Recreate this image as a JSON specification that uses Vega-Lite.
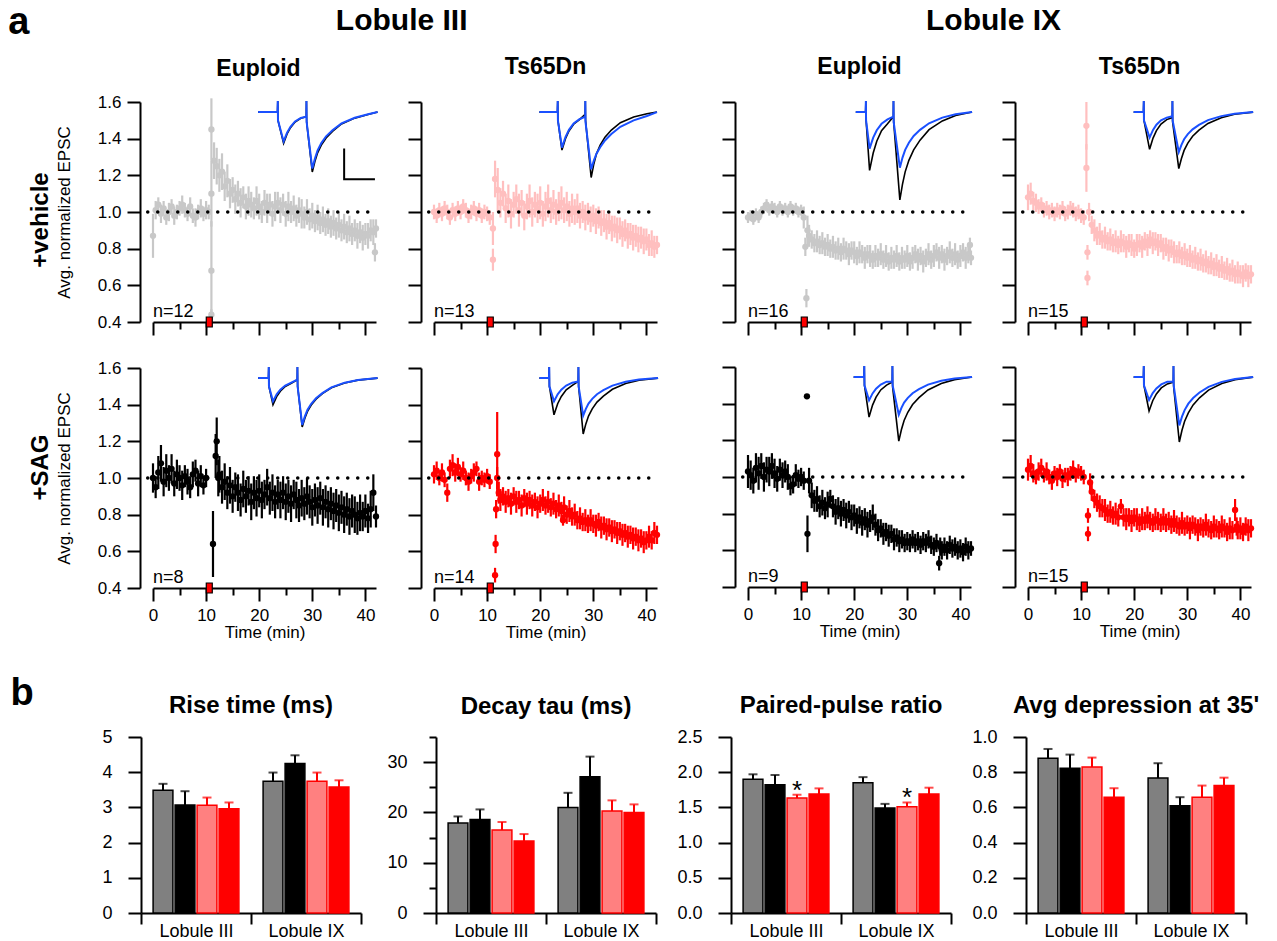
{
"$schema": "https://vega.github.io/schema/vega-lite/v6.json",
"background": "white",
"padding": {"left": 8, "top": 4, "right": 0, "bottom": 0},
"columns": 1,
"align": "none",
"spacing": 34,
"config": {
  "font": "Liberation Sans",
  "view": {"stroke": null},
  "axis": {"domainColor": "#000000", "domainWidth": 2, "tickColor": "#000000", "tickWidth": 2, "labelColor": "#000000", "labelFont": "Liberation Sans", "labelFontSize": 17, "titleFont": "Liberation Sans", "titleFontSize": 17, "titleFontWeight": "normal", "titleColor": "#000000", "grid": false, "labelFlush": false, "labelOverlap": false},
  "title": {"font": "Liberation Sans", "fontWeight": "bold", "color": "#000000"},
  "text": {"font": "Liberation Sans", "color": "#000000"}
},
"datasets": {
"tA1": [{"t":0,"y":0.87,"e":0.12},{"t":0.5,"y":1.01,"e":0.05},{"t":1,"y":1.04,"e":0.04},{"t":1.5,"y":0.99,"e":0.05},{"t":2,"y":1.02,"e":0.04},{"t":2.5,"y":0.97,"e":0.04},{"t":3,"y":1.0,"e":0.05},{"t":3.5,"y":1.03,"e":0.04},{"t":4,"y":0.98,"e":0.05},{"t":4.5,"y":1.0,"e":0.04},{"t":5,"y":1.02,"e":0.04},{"t":5.5,"y":1.04,"e":0.05},{"t":6,"y":1.01,"e":0.04},{"t":6.5,"y":0.99,"e":0.04},{"t":7,"y":1.03,"e":0.05},{"t":7.5,"y":0.98,"e":0.04},{"t":8,"y":0.97,"e":0.05},{"t":8.5,"y":1.0,"e":0.04},{"t":9,"y":1.02,"e":0.05},{"t":9.5,"y":0.99,"e":0.04},{"t":10,"y":1.01,"e":0.05},{"t":10.5,"y":1.0,"e":0.04},
{"t":11,"y":1.45,"e":0.17},{"t":11,"y":1.1,"e":0.18},{"t":11,"y":0.68,"e":0.27},{"t":11,"y":0.44,"e":0.03},
{"t":11.5,"y":1.28,"e":0.1},{"t":12,"y":1.25,"e":0.1},{"t":12.5,"y":1.2,"e":0.09},{"t":13,"y":1.22,"e":0.1},{"t":13.5,"y":1.14,"e":0.08},{"t":14,"y":1.17,"e":0.09},{"t":14.5,"y":1.1,"e":0.08},{"t":15,"y":1.12,"e":0.07},{"t":15.5,"y":1.07,"e":0.08},{"t":16,"y":1.1,"e":0.07},{"t":16.5,"y":1.05,"e":0.08},{"t":17,"y":1.08,"e":0.06},{"t":17.5,"y":1.03,"e":0.07},{"t":18,"y":1.06,"e":0.08},{"t":18.5,"y":1.04,"e":0.07},{"t":19,"y":1.02,"e":0.06},{"t":19.5,"y":1.06,"e":0.08},{"t":20,"y":1.03,"e":0.07},{"t":20.5,"y":1.0,"e":0.06},{"t":21,"y":1.05,"e":0.07},{"t":21.5,"y":1.02,"e":0.08},{"t":22,"y":1.04,"e":0.06},{"t":22.5,"y":0.99,"e":0.07},{"t":23,"y":1.03,"e":0.08},{"t":23.5,"y":1.05,"e":0.06},{"t":24,"y":1.01,"e":0.07},{"t":24.5,"y":1.04,"e":0.06},{"t":25,"y":0.99,"e":0.07},{"t":25.5,"y":1.03,"e":0.08},{"t":26,"y":1.0,"e":0.06},{"t":26.5,"y":1.02,"e":0.07},{"t":27,"y":0.98,"e":0.06},{"t":27.5,"y":1.01,"e":0.07},{"t":28,"y":0.99,"e":0.08},{"t":28.5,"y":0.97,"e":0.06},{"t":29,"y":1.0,"e":0.07},{"t":29.5,"y":0.96,"e":0.06},{"t":30,"y":0.98,"e":0.07},{"t":30.5,"y":0.95,"e":0.06},{"t":31,"y":0.97,"e":0.07},{"t":31.5,"y":0.94,"e":0.06},{"t":32,"y":0.96,"e":0.07},{"t":32.5,"y":0.93,"e":0.06},{"t":33,"y":0.95,"e":0.07},{"t":33.5,"y":0.92,"e":0.06},{"t":34,"y":0.94,"e":0.07},{"t":34.5,"y":0.91,"e":0.06},{"t":35,"y":0.93,"e":0.07},{"t":35.5,"y":0.9,"e":0.06},{"t":36,"y":0.92,"e":0.07},{"t":36.5,"y":0.89,"e":0.06},{"t":37,"y":0.91,"e":0.07},{"t":37.5,"y":0.88,"e":0.06},{"t":38,"y":0.9,"e":0.06},{"t":38.5,"y":0.87,"e":0.07},{"t":39,"y":0.89,"e":0.06},{"t":39.5,"y":0.86,"e":0.07},{"t":40,"y":0.88,"e":0.06},{"t":40.5,"y":0.87,"e":0.07},{"t":41,"y":0.9,"e":0.06},{"t":41.5,"y":0.89,"e":0.07},{"t":41.8,"y":0.78,"e":0.05},{"t":42,"y":0.91,"e":0.05}],
"tA2": [{"t":0,"y":1.0,"e":0.04},{"t":0.5,"y":0.98,"e":0.04},{"t":1,"y":1.01,"e":0.04},{"t":1.5,"y":0.99,"e":0.04},{"t":2,"y":1.02,"e":0.04},{"t":2.5,"y":1.0,"e":0.04},{"t":3,"y":0.97,"e":0.04},{"t":3.5,"y":1.01,"e":0.04},{"t":4,"y":0.99,"e":0.04},{"t":4.5,"y":1.02,"e":0.04},{"t":5,"y":1.0,"e":0.04},{"t":5.5,"y":1.03,"e":0.04},{"t":6,"y":1.01,"e":0.04},{"t":6.5,"y":0.98,"e":0.04},{"t":7,"y":1.0,"e":0.04},{"t":7.5,"y":1.02,"e":0.04},{"t":8,"y":0.99,"e":0.04},{"t":8.5,"y":1.01,"e":0.04},{"t":9,"y":0.98,"e":0.04},{"t":9.5,"y":1.0,"e":0.04},{"t":10,"y":0.99,"e":0.04},{"t":10.5,"y":0.97,"e":0.04},
{"t":11.1,"y":0.91,"e":0.09},{"t":11.1,"y":0.74,"e":0.06},{"t":11.5,"y":1.18,"e":0.1},{"t":12,"y":1.12,"e":0.12},{"t":12.5,"y":1.05,"e":0.08},{"t":13,"y":1.1,"e":0.07},{"t":13.5,"y":1.02,"e":0.08},{"t":14,"y":1.06,"e":0.09},{"t":14.5,"y":0.99,"e":0.08},{"t":15,"y":1.04,"e":0.07},{"t":15.5,"y":1.07,"e":0.08},{"t":16,"y":1.01,"e":0.09},{"t":16.5,"y":1.05,"e":0.07},{"t":17,"y":0.98,"e":0.08},{"t":17.5,"y":1.03,"e":0.07},{"t":18,"y":1.06,"e":0.09},{"t":18.5,"y":1.0,"e":0.08},{"t":19,"y":1.04,"e":0.07},{"t":19.5,"y":1.02,"e":0.08},{"t":20,"y":1.05,"e":0.09},{"t":20.5,"y":0.99,"e":0.07},{"t":21,"y":1.03,"e":0.08},{"t":21.5,"y":1.06,"e":0.09},{"t":22,"y":1.01,"e":0.07},{"t":22.5,"y":1.04,"e":0.08},{"t":23,"y":1.0,"e":0.07},{"t":23.5,"y":1.03,"e":0.08},{"t":24,"y":1.05,"e":0.09},{"t":24.5,"y":1.01,"e":0.07},{"t":25,"y":1.03,"e":0.08},{"t":25.5,"y":0.99,"e":0.07},{"t":26,"y":1.02,"e":0.08},{"t":26.5,"y":1.0,"e":0.07},{"t":27,"y":1.02,"e":0.08},{"t":27.5,"y":0.98,"e":0.07},{"t":28,"y":1.0,"e":0.06},{"t":28.5,"y":0.97,"e":0.07},{"t":29,"y":0.99,"e":0.06},{"t":29.5,"y":0.96,"e":0.07},{"t":30,"y":0.98,"e":0.06},{"t":30.5,"y":0.95,"e":0.07},{"t":31,"y":0.97,"e":0.06},{"t":31.5,"y":0.94,"e":0.07},{"t":32,"y":0.95,"e":0.06},{"t":32.5,"y":0.92,"e":0.07},{"t":33,"y":0.94,"e":0.06},{"t":33.5,"y":0.91,"e":0.07},{"t":34,"y":0.92,"e":0.06},{"t":34.5,"y":0.9,"e":0.07},{"t":35,"y":0.91,"e":0.06},{"t":35.5,"y":0.88,"e":0.07},{"t":36,"y":0.9,"e":0.06},{"t":36.5,"y":0.87,"e":0.07},{"t":37,"y":0.88,"e":0.06},{"t":37.5,"y":0.86,"e":0.07},{"t":38,"y":0.87,"e":0.06},{"t":38.5,"y":0.85,"e":0.07},{"t":39,"y":0.86,"e":0.06},{"t":39.5,"y":0.84,"e":0.07},{"t":40,"y":0.85,"e":0.06},{"t":40.5,"y":0.82,"e":0.06},{"t":41,"y":0.83,"e":0.07},{"t":41.5,"y":0.81,"e":0.06},{"t":42,"y":0.82,"e":0.05}],
"tA3": [{"t":0,"y":0.97,"e":0.03},{"t":0.5,"y":0.98,"e":0.03},{"t":1,"y":0.96,"e":0.03},{"t":1.5,"y":0.99,"e":0.03},{"t":2,"y":0.97,"e":0.03},{"t":2.5,"y":1.0,"e":0.03},{"t":3,"y":1.02,"e":0.03},{"t":3.5,"y":1.04,"e":0.03},{"t":4,"y":1.01,"e":0.03},{"t":4.5,"y":1.03,"e":0.03},{"t":5,"y":1.02,"e":0.03},{"t":5.5,"y":1.0,"e":0.03},{"t":6,"y":1.03,"e":0.03},{"t":6.5,"y":1.01,"e":0.03},{"t":7,"y":1.02,"e":0.03},{"t":7.5,"y":1.0,"e":0.03},{"t":8,"y":1.03,"e":0.03},{"t":8.5,"y":1.01,"e":0.03},{"t":9,"y":1.02,"e":0.03},{"t":9.5,"y":1.0,"e":0.03},{"t":10,"y":1.01,"e":0.03},
{"t":10.5,"y":0.97,"e":0.06},{"t":10.8,"y":0.81,"e":0.05},{"t":11,"y":0.53,"e":0.05},{"t":11.2,"y":0.9,"e":0.08},{"t":11.5,"y":0.87,"e":0.06},{"t":12,"y":0.85,"e":0.05},{"t":12.5,"y":0.83,"e":0.05},{"t":13,"y":0.84,"e":0.06},{"t":13.5,"y":0.82,"e":0.05},{"t":14,"y":0.83,"e":0.06},{"t":14.5,"y":0.81,"e":0.05},{"t":15,"y":0.82,"e":0.06},{"t":15.5,"y":0.8,"e":0.05},{"t":16,"y":0.81,"e":0.06},{"t":16.5,"y":0.79,"e":0.05},{"t":17,"y":0.8,"e":0.06},{"t":17.5,"y":0.78,"e":0.05},{"t":18,"y":0.8,"e":0.06},{"t":18.5,"y":0.79,"e":0.05},{"t":19,"y":0.77,"e":0.06},{"t":19.5,"y":0.79,"e":0.05},{"t":20,"y":0.78,"e":0.06},{"t":20.5,"y":0.76,"e":0.05},{"t":21,"y":0.78,"e":0.06},{"t":21.5,"y":0.77,"e":0.05},{"t":22,"y":0.75,"e":0.06},{"t":22.5,"y":0.77,"e":0.05},{"t":23,"y":0.76,"e":0.06},{"t":23.5,"y":0.74,"e":0.05},{"t":24,"y":0.76,"e":0.06},{"t":24.5,"y":0.75,"e":0.05},{"t":25,"y":0.77,"e":0.06},{"t":25.5,"y":0.74,"e":0.05},{"t":26,"y":0.76,"e":0.06},{"t":26.5,"y":0.73,"e":0.05},{"t":27,"y":0.75,"e":0.06},{"t":27.5,"y":0.74,"e":0.05},{"t":28,"y":0.76,"e":0.06},{"t":28.5,"y":0.73,"e":0.05},{"t":29,"y":0.75,"e":0.06},{"t":29.5,"y":0.74,"e":0.05},{"t":30,"y":0.76,"e":0.06},{"t":30.5,"y":0.73,"e":0.05},{"t":31,"y":0.75,"e":0.06},{"t":31.5,"y":0.77,"e":0.05},{"t":32,"y":0.74,"e":0.06},{"t":32.5,"y":0.76,"e":0.05},{"t":33,"y":0.73,"e":0.06},{"t":33.5,"y":0.75,"e":0.05},{"t":34,"y":0.77,"e":0.06},{"t":34.5,"y":0.74,"e":0.05},{"t":35,"y":0.76,"e":0.06},{"t":35.5,"y":0.78,"e":0.05},{"t":36,"y":0.75,"e":0.06},{"t":36.5,"y":0.77,"e":0.05},{"t":37,"y":0.74,"e":0.06},{"t":37.5,"y":0.76,"e":0.05},{"t":38,"y":0.78,"e":0.06},{"t":38.5,"y":0.75,"e":0.05},{"t":39,"y":0.77,"e":0.06},{"t":39.5,"y":0.74,"e":0.05},{"t":40,"y":0.76,"e":0.06},{"t":40.5,"y":0.78,"e":0.05},{"t":41,"y":0.75,"e":0.06},{"t":41.5,"y":0.77,"e":0.05},{"t":41.8,"y":0.82,"e":0.04},{"t":42,"y":0.75,"e":0.04}],
"tA4": [{"t":0,"y":1.08,"e":0.07},{"t":0.5,"y":1.1,"e":0.06},{"t":1,"y":1.06,"e":0.05},{"t":1.5,"y":1.05,"e":0.05},{"t":2,"y":1.03,"e":0.04},{"t":2.5,"y":1.04,"e":0.04},{"t":3,"y":1.01,"e":0.04},{"t":3.5,"y":1.02,"e":0.04},{"t":4,"y":1.0,"e":0.04},{"t":4.5,"y":1.01,"e":0.04},{"t":5,"y":0.99,"e":0.04},{"t":5.5,"y":1.01,"e":0.04},{"t":6,"y":1.0,"e":0.04},{"t":6.5,"y":1.02,"e":0.04},{"t":7,"y":0.99,"e":0.04},{"t":7.5,"y":1.0,"e":0.04},{"t":8,"y":1.02,"e":0.04},{"t":8.5,"y":1.01,"e":0.04},{"t":9,"y":0.99,"e":0.04},{"t":9.5,"y":1.0,"e":0.04},{"t":10,"y":0.98,"e":0.04},{"t":10.5,"y":0.97,"e":0.04},
{"t":11,"y":1.47,"e":0.13},{"t":11,"y":1.24,"e":0.13},{"t":11.2,"y":0.78,"e":0.04},{"t":11.2,"y":0.64,"e":0.04},{"t":11.5,"y":1.0,"e":0.05},{"t":12,"y":0.93,"e":0.05},{"t":12.5,"y":0.9,"e":0.06},{"t":13,"y":0.87,"e":0.05},{"t":13.5,"y":0.88,"e":0.06},{"t":14,"y":0.85,"e":0.05},{"t":14.5,"y":0.86,"e":0.06},{"t":15,"y":0.84,"e":0.05},{"t":15.5,"y":0.85,"e":0.06},{"t":16,"y":0.83,"e":0.05},{"t":16.5,"y":0.84,"e":0.06},{"t":17,"y":0.82,"e":0.05},{"t":17.5,"y":0.84,"e":0.06},{"t":18,"y":0.83,"e":0.05},{"t":18.5,"y":0.81,"e":0.06},{"t":19,"y":0.83,"e":0.05},{"t":19.5,"y":0.82,"e":0.06},{"t":20,"y":0.8,"e":0.05},{"t":20.5,"y":0.82,"e":0.06},{"t":21,"y":0.83,"e":0.05},{"t":21.5,"y":0.81,"e":0.06},{"t":22,"y":0.84,"e":0.05},{"t":22.5,"y":0.82,"e":0.06},{"t":23,"y":0.85,"e":0.05},{"t":23.5,"y":0.83,"e":0.06},{"t":24,"y":0.84,"e":0.05},{"t":24.5,"y":0.82,"e":0.06},{"t":25,"y":0.83,"e":0.05},{"t":25.5,"y":0.8,"e":0.06},{"t":26,"y":0.81,"e":0.05},{"t":26.5,"y":0.79,"e":0.06},{"t":27,"y":0.8,"e":0.05},{"t":27.5,"y":0.78,"e":0.06},{"t":28,"y":0.77,"e":0.05},{"t":28.5,"y":0.78,"e":0.06},{"t":29,"y":0.76,"e":0.05},{"t":29.5,"y":0.77,"e":0.06},{"t":30,"y":0.75,"e":0.05},{"t":30.5,"y":0.76,"e":0.06},{"t":31,"y":0.74,"e":0.05},{"t":31.5,"y":0.75,"e":0.06},{"t":32,"y":0.73,"e":0.05},{"t":32.5,"y":0.74,"e":0.06},{"t":33,"y":0.72,"e":0.05},{"t":33.5,"y":0.73,"e":0.06},{"t":34,"y":0.71,"e":0.05},{"t":34.5,"y":0.72,"e":0.06},{"t":35,"y":0.7,"e":0.05},{"t":35.5,"y":0.71,"e":0.06},{"t":36,"y":0.69,"e":0.05},{"t":36.5,"y":0.7,"e":0.06},{"t":37,"y":0.68,"e":0.05},{"t":37.5,"y":0.69,"e":0.06},{"t":38,"y":0.67,"e":0.05},{"t":38.5,"y":0.68,"e":0.06},{"t":39,"y":0.66,"e":0.05},{"t":39.5,"y":0.67,"e":0.06},{"t":40,"y":0.66,"e":0.05},{"t":40.5,"y":0.65,"e":0.06},{"t":41,"y":0.67,"e":0.05},{"t":41.5,"y":0.65,"e":0.06},{"t":42,"y":0.66,"e":0.05}],
"tB1": [{"t":0,"y":1.0,"e":0.08},{"t":0.5,"y":0.95,"e":0.06},{"t":1,"y":1.03,"e":0.09},{"t":1.5,"y":1.08,"e":0.1},{"t":2,"y":0.98,"e":0.08},{"t":2.5,"y":1.04,"e":0.09},{"t":3,"y":1.0,"e":0.07},{"t":3.5,"y":1.05,"e":0.08},{"t":4,"y":0.97,"e":0.07},{"t":4.5,"y":1.02,"e":0.08},{"t":5,"y":1.0,"e":0.07},{"t":5.5,"y":0.96,"e":0.08},{"t":6,"y":1.01,"e":0.06},{"t":6.5,"y":0.98,"e":0.07},{"t":7,"y":0.95,"e":0.06},{"t":7.5,"y":1.02,"e":0.07},{"t":8,"y":1.04,"e":0.06},{"t":8.5,"y":0.97,"e":0.07},{"t":9,"y":1.01,"e":0.06},{"t":9.5,"y":0.96,"e":0.05},{"t":10,"y":1.0,"e":0.05},
{"t":11.3,"y":0.64,"e":0.18},{"t":11.8,"y":1.12,"e":0.12},{"t":12,"y":1.2,"e":0.13},{"t":12.3,"y":1.0,"e":0.1},{"t":12.5,"y":1.02,"e":0.1},{"t":13,"y":0.95,"e":0.09},{"t":13.5,"y":0.98,"e":0.1},{"t":14,"y":0.92,"e":0.09},{"t":14.5,"y":0.96,"e":0.1},{"t":15,"y":0.9,"e":0.09},{"t":15.5,"y":0.95,"e":0.08},{"t":16,"y":0.92,"e":0.1},{"t":16.5,"y":0.88,"e":0.09},{"t":17,"y":0.94,"e":0.1},{"t":17.5,"y":0.9,"e":0.09},{"t":18,"y":0.93,"e":0.08},{"t":18.5,"y":0.87,"e":0.1},{"t":19,"y":0.92,"e":0.09},{"t":19.5,"y":0.89,"e":0.1},{"t":20,"y":0.93,"e":0.09},{"t":20.5,"y":0.88,"e":0.1},{"t":21,"y":0.91,"e":0.08},{"t":21.5,"y":0.95,"e":0.1},{"t":22,"y":0.89,"e":0.09},{"t":22.5,"y":0.92,"e":0.1},{"t":23,"y":0.87,"e":0.09},{"t":23.5,"y":0.91,"e":0.08},{"t":24,"y":0.88,"e":0.1},{"t":24.5,"y":0.92,"e":0.09},{"t":25,"y":0.87,"e":0.1},{"t":25.5,"y":0.9,"e":0.09},{"t":26,"y":0.86,"e":0.1},{"t":26.5,"y":0.91,"e":0.08},{"t":27,"y":0.88,"e":0.1},{"t":27.5,"y":0.85,"e":0.09},{"t":28,"y":0.89,"e":0.1},{"t":28.5,"y":0.86,"e":0.09},{"t":29,"y":0.9,"e":0.1},{"t":29.5,"y":0.87,"e":0.09},{"t":30,"y":0.84,"e":0.1},{"t":30.5,"y":0.88,"e":0.09},{"t":31,"y":0.85,"e":0.1},{"t":31.5,"y":0.89,"e":0.09},{"t":32,"y":0.84,"e":0.1},{"t":32.5,"y":0.87,"e":0.09},{"t":33,"y":0.83,"e":0.1},{"t":33.5,"y":0.86,"e":0.09},{"t":34,"y":0.82,"e":0.1},{"t":34.5,"y":0.85,"e":0.09},{"t":35,"y":0.81,"e":0.1},{"t":35.5,"y":0.84,"e":0.09},{"t":36,"y":0.8,"e":0.1},{"t":36.5,"y":0.83,"e":0.09},{"t":37,"y":0.79,"e":0.1},{"t":37.5,"y":0.82,"e":0.09},{"t":38,"y":0.8,"e":0.1},{"t":38.5,"y":0.78,"e":0.09},{"t":39,"y":0.81,"e":0.1},{"t":39.5,"y":0.79,"e":0.08},{"t":40,"y":0.82,"e":0.09},{"t":40.5,"y":0.78,"e":0.08},{"t":41,"y":0.83,"e":0.1},{"t":41.5,"y":0.92,"e":0.1},{"t":42,"y":0.79,"e":0.06}],
"tB2": [{"t":0,"y":1.02,"e":0.05},{"t":0.5,"y":1.04,"e":0.05},{"t":1,"y":1.0,"e":0.04},{"t":1.5,"y":1.03,"e":0.05},{"t":2,"y":0.99,"e":0.04},{"t":2.5,"y":0.92,"e":0.05},{"t":3,"y":1.05,"e":0.05},{"t":3.5,"y":1.07,"e":0.06},{"t":4,"y":1.03,"e":0.05},{"t":4.5,"y":1.06,"e":0.05},{"t":5,"y":1.02,"e":0.04},{"t":5.5,"y":1.04,"e":0.05},{"t":6,"y":1.0,"e":0.04},{"t":6.5,"y":0.98,"e":0.05},{"t":7,"y":1.01,"e":0.04},{"t":7.5,"y":1.03,"e":0.05},{"t":8,"y":1.05,"e":0.04},{"t":8.5,"y":0.98,"e":0.05},{"t":9,"y":1.0,"e":0.04},{"t":9.5,"y":0.99,"e":0.04},{"t":10,"y":1.01,"e":0.04},{"t":10.5,"y":0.98,"e":0.04},
{"t":11.5,"y":0.47,"e":0.04},{"t":11.6,"y":0.64,"e":0.05},{"t":11.7,"y":0.83,"e":0.05},{"t":11.9,"y":1.0,"e":0.06},{"t":11.9,"y":1.13,"e":0.23},{"t":12.2,"y":0.92,"e":0.06},{"t":12.5,"y":0.88,"e":0.06},{"t":13,"y":0.9,"e":0.05},{"t":13.5,"y":0.87,"e":0.06},{"t":14,"y":0.89,"e":0.05},{"t":14.5,"y":0.86,"e":0.06},{"t":15,"y":0.9,"e":0.05},{"t":15.5,"y":0.87,"e":0.06},{"t":16,"y":0.88,"e":0.05},{"t":16.5,"y":0.85,"e":0.06},{"t":17,"y":0.89,"e":0.05},{"t":17.5,"y":0.86,"e":0.06},{"t":18,"y":0.88,"e":0.05},{"t":18.5,"y":0.85,"e":0.06},{"t":19,"y":0.87,"e":0.05},{"t":19.5,"y":0.84,"e":0.06},{"t":20,"y":0.86,"e":0.05},{"t":20.5,"y":0.88,"e":0.06},{"t":21,"y":0.85,"e":0.05},{"t":21.5,"y":0.87,"e":0.06},{"t":22,"y":0.84,"e":0.05},{"t":22.5,"y":0.86,"e":0.06},{"t":23,"y":0.83,"e":0.05},{"t":23.5,"y":0.85,"e":0.06},{"t":24,"y":0.82,"e":0.05},{"t":24.3,"y":0.77,"e":0.03},{"t":24.5,"y":0.84,"e":0.06},{"t":25,"y":0.8,"e":0.05},{"t":25.5,"y":0.82,"e":0.06},{"t":26,"y":0.79,"e":0.05},{"t":26.5,"y":0.8,"e":0.06},{"t":27,"y":0.77,"e":0.05},{"t":27.5,"y":0.78,"e":0.06},{"t":28,"y":0.76,"e":0.05},{"t":28.5,"y":0.77,"e":0.06},{"t":29,"y":0.75,"e":0.05},{"t":29.5,"y":0.77,"e":0.06},{"t":30,"y":0.75,"e":0.05},{"t":30.5,"y":0.74,"e":0.06},{"t":31,"y":0.76,"e":0.05},{"t":31.5,"y":0.73,"e":0.06},{"t":32,"y":0.74,"e":0.05},{"t":32.5,"y":0.72,"e":0.06},{"t":33,"y":0.73,"e":0.05},{"t":33.5,"y":0.71,"e":0.06},{"t":34,"y":0.72,"e":0.05},{"t":34.5,"y":0.7,"e":0.06},{"t":35,"y":0.71,"e":0.05},{"t":35.5,"y":0.69,"e":0.06},{"t":36,"y":0.7,"e":0.05},{"t":36.5,"y":0.68,"e":0.06},{"t":37,"y":0.69,"e":0.05},{"t":37.5,"y":0.67,"e":0.06},{"t":38,"y":0.68,"e":0.05},{"t":38.5,"y":0.66,"e":0.06},{"t":39,"y":0.67,"e":0.05},{"t":39.5,"y":0.65,"e":0.06},{"t":40,"y":0.66,"e":0.05},{"t":40.5,"y":0.68,"e":0.06},{"t":41,"y":0.66,"e":0.05},{"t":41.5,"y":0.7,"e":0.06},{"t":42,"y":0.69,"e":0.05}],
"tB3": [{"t":0,"y":1.03,"e":0.09},{"t":0.5,"y":1.01,"e":0.08},{"t":1,"y":0.98,"e":0.07},{"t":1.5,"y":1.05,"e":0.08},{"t":2,"y":1.02,"e":0.09},{"t":2.5,"y":1.06,"e":0.07},{"t":3,"y":1.0,"e":0.08},{"t":3.5,"y":1.04,"e":0.07},{"t":4,"y":1.03,"e":0.08},{"t":4.5,"y":1.06,"e":0.07},{"t":5,"y":1.02,"e":0.08},{"t":5.5,"y":0.99,"e":0.07},{"t":6,"y":1.04,"e":0.06},{"t":6.5,"y":1.01,"e":0.07},{"t":7,"y":1.03,"e":0.06},{"t":7.5,"y":1.0,"e":0.07},{"t":8,"y":0.95,"e":0.05},{"t":8.5,"y":0.96,"e":0.05},{"t":9,"y":1.01,"e":0.06},{"t":9.5,"y":0.99,"e":0.05},{"t":10,"y":1.0,"e":0.05},{"t":10.5,"y":0.98,"e":0.05},
{"t":11.1,"y":1.44,"e":0.005},{"t":11.2,"y":0.69,"e":0.1},{"t":11.5,"y":0.98,"e":0.07},{"t":12,"y":0.9,"e":0.07},{"t":12.5,"y":0.87,"e":0.06},{"t":13,"y":0.88,"e":0.07},{"t":13.5,"y":0.84,"e":0.06},{"t":14,"y":0.86,"e":0.07},{"t":14.5,"y":0.83,"e":0.06},{"t":15,"y":0.85,"e":0.07},{"t":15.5,"y":0.88,"e":0.05},{"t":16,"y":0.84,"e":0.06},{"t":16.5,"y":0.81,"e":0.07},{"t":17,"y":0.83,"e":0.06},{"t":17.5,"y":0.8,"e":0.07},{"t":18,"y":0.82,"e":0.06},{"t":18.5,"y":0.79,"e":0.07},{"t":19,"y":0.81,"e":0.06},{"t":19.5,"y":0.78,"e":0.07},{"t":20,"y":0.79,"e":0.06},{"t":20.5,"y":0.76,"e":0.07},{"t":21,"y":0.78,"e":0.06},{"t":21.5,"y":0.75,"e":0.07},{"t":22,"y":0.77,"e":0.06},{"t":22.5,"y":0.74,"e":0.07},{"t":23,"y":0.76,"e":0.06},{"t":23.5,"y":0.78,"e":0.07},{"t":24,"y":0.74,"e":0.06},{"t":24.5,"y":0.71,"e":0.06},{"t":25,"y":0.72,"e":0.05},{"t":25.5,"y":0.69,"e":0.06},{"t":26,"y":0.7,"e":0.05},{"t":26.5,"y":0.68,"e":0.06},{"t":27,"y":0.69,"e":0.05},{"t":27.5,"y":0.66,"e":0.06},{"t":28,"y":0.67,"e":0.05},{"t":28.5,"y":0.65,"e":0.06},{"t":29,"y":0.66,"e":0.05},{"t":29.5,"y":0.64,"e":0.05},{"t":30,"y":0.65,"e":0.05},{"t":30.5,"y":0.64,"e":0.05},{"t":31,"y":0.66,"e":0.05},{"t":31.5,"y":0.64,"e":0.05},{"t":32,"y":0.65,"e":0.05},{"t":32.5,"y":0.63,"e":0.05},{"t":33,"y":0.65,"e":0.05},{"t":33.5,"y":0.64,"e":0.05},{"t":34,"y":0.66,"e":0.05},{"t":34.5,"y":0.63,"e":0.05},{"t":35,"y":0.62,"e":0.05},{"t":35.5,"y":0.64,"e":0.05},{"t":36,"y":0.53,"e":0.04},{"t":36.2,"y":0.62,"e":0.05},{"t":36.5,"y":0.6,"e":0.05},{"t":37,"y":0.62,"e":0.05},{"t":37.5,"y":0.6,"e":0.05},{"t":38,"y":0.63,"e":0.05},{"t":38.5,"y":0.61,"e":0.05},{"t":39,"y":0.62,"e":0.05},{"t":39.5,"y":0.6,"e":0.05},{"t":40,"y":0.61,"e":0.05},{"t":40.5,"y":0.59,"e":0.05},{"t":41,"y":0.62,"e":0.05},{"t":41.5,"y":0.6,"e":0.05},{"t":42,"y":0.61,"e":0.04}],
"tB4": [{"t":0,"y":1.04,"e":0.06},{"t":0.5,"y":1.06,"e":0.06},{"t":1,"y":1.02,"e":0.05},{"t":1.5,"y":1.0,"e":0.04},{"t":2,"y":1.03,"e":0.05},{"t":2.5,"y":1.05,"e":0.05},{"t":3,"y":1.01,"e":0.04},{"t":3.5,"y":1.03,"e":0.05},{"t":4,"y":1.0,"e":0.04},{"t":4.5,"y":0.98,"e":0.05},{"t":5,"y":1.02,"e":0.04},{"t":5.5,"y":1.0,"e":0.05},{"t":6,"y":1.03,"e":0.04},{"t":6.5,"y":0.99,"e":0.05},{"t":7,"y":1.01,"e":0.04},{"t":7.5,"y":1.0,"e":0.05},{"t":8,"y":1.02,"e":0.04},{"t":8.5,"y":1.04,"e":0.05},{"t":9,"y":1.01,"e":0.04},{"t":9.5,"y":1.03,"e":0.04},{"t":10,"y":1.02,"e":0.04},{"t":10.5,"y":1.0,"e":0.04},
{"t":11.3,"y":0.79,"e":0.04},{"t":11.3,"y":0.69,"e":0.04},{"t":11.7,"y":0.97,"e":0.05},{"t":12,"y":0.92,"e":0.05},{"t":12.5,"y":0.88,"e":0.05},{"t":13,"y":0.86,"e":0.05},{"t":13.5,"y":0.84,"e":0.06},{"t":14,"y":0.83,"e":0.05},{"t":14.5,"y":0.82,"e":0.06},{"t":15,"y":0.8,"e":0.05},{"t":15.5,"y":0.81,"e":0.06},{"t":16,"y":0.79,"e":0.05},{"t":16.5,"y":0.8,"e":0.06},{"t":17,"y":0.78,"e":0.05},{"t":17.5,"y":0.84,"e":0.04},{"t":18,"y":0.78,"e":0.05},{"t":18.5,"y":0.77,"e":0.06},{"t":19,"y":0.78,"e":0.05},{"t":19.5,"y":0.76,"e":0.06},{"t":20,"y":0.78,"e":0.05},{"t":20.5,"y":0.77,"e":0.06},{"t":21,"y":0.75,"e":0.05},{"t":21.5,"y":0.77,"e":0.06},{"t":22,"y":0.76,"e":0.05},{"t":22.5,"y":0.78,"e":0.06},{"t":23,"y":0.76,"e":0.05},{"t":23.5,"y":0.75,"e":0.05},{"t":24,"y":0.77,"e":0.06},{"t":24.5,"y":0.76,"e":0.05},{"t":25,"y":0.75,"e":0.05},{"t":25.5,"y":0.77,"e":0.06},{"t":26,"y":0.75,"e":0.05},{"t":26.5,"y":0.76,"e":0.05},{"t":27,"y":0.74,"e":0.05},{"t":27.5,"y":0.76,"e":0.06},{"t":28,"y":0.74,"e":0.05},{"t":28.5,"y":0.73,"e":0.05},{"t":29,"y":0.75,"e":0.06},{"t":29.5,"y":0.73,"e":0.05},{"t":30,"y":0.74,"e":0.05},{"t":30.5,"y":0.72,"e":0.06},{"t":31,"y":0.74,"e":0.05},{"t":31.5,"y":0.73,"e":0.05},{"t":32,"y":0.71,"e":0.06},{"t":32.5,"y":0.73,"e":0.05},{"t":33,"y":0.72,"e":0.05},{"t":33.5,"y":0.74,"e":0.06},{"t":34,"y":0.72,"e":0.05},{"t":34.5,"y":0.71,"e":0.05},{"t":35,"y":0.73,"e":0.06},{"t":35.5,"y":0.72,"e":0.05},{"t":36,"y":0.71,"e":0.05},{"t":36.5,"y":0.73,"e":0.06},{"t":37,"y":0.72,"e":0.05},{"t":37.5,"y":0.7,"e":0.05},{"t":38,"y":0.72,"e":0.06},{"t":38.5,"y":0.71,"e":0.05},{"t":39,"y":0.82,"e":0.06},{"t":39.3,"y":0.73,"e":0.05},{"t":39.5,"y":0.71,"e":0.05},{"t":40,"y":0.72,"e":0.06},{"t":40.5,"y":0.7,"e":0.05},{"t":41,"y":0.73,"e":0.05},{"t":41.5,"y":0.71,"e":0.06},{"t":42,"y":0.72,"e":0.05}],
"iA1": [{"t":19.8,"y":1.545,"k":"c"},{"t":23.45,"y":1.545,"k":"c"},{"t":23.5,"y":1.605,"k":"c"},{"t":23.54,"y":1.5,"k":"c"},{"t":24.6,"y":1.375,"k":"c"},{"t":25.25,"y":1.426,"k":"c"},{"t":25.89,"y":1.46,"k":"c"},{"t":26.75,"y":1.491,"k":"c"},{"t":27.83,"y":1.511,"k":"c"},{"t":28.87,"y":1.52,"k":"c"},{"t":28.9,"y":1.605,"k":"c"},{"t":28.94,"y":1.49,"k":"c"},{"t":30.0,"y":1.218,"k":"c"},{"t":30.5,"y":1.277,"k":"c"},{"t":31.0,"y":1.323,"k":"c"},{"t":31.7,"y":1.365,"k":"c"},{"t":32.6,"y":1.404,"k":"c"},{"t":33.8,"y":1.44,"k":"c"},{"t":35.5,"y":1.48,"k":"c"},{"t":38.0,"y":1.512,"k":"c"},{"t":40.5,"y":1.532,"k":"c"},{"t":42.3,"y":1.545,"k":"c"},
{"t":19.8,"y":1.545,"k":"d"},{"t":23.45,"y":1.545,"k":"d"},{"t":23.5,"y":1.605,"k":"d"},{"t":23.54,"y":1.5,"k":"d"},{"t":24.6,"y":1.385,"k":"d"},{"t":25.25,"y":1.433,"k":"d"},{"t":25.89,"y":1.465,"k":"d"},{"t":26.75,"y":1.494,"k":"d"},{"t":27.83,"y":1.513,"k":"d"},{"t":28.87,"y":1.52,"k":"d"},{"t":28.9,"y":1.605,"k":"d"},{"t":28.94,"y":1.49,"k":"d"},{"t":30.0,"y":1.237,"k":"d"},{"t":30.5,"y":1.292,"k":"d"},{"t":31.0,"y":1.336,"k":"d"},{"t":31.7,"y":1.376,"k":"d"},{"t":32.6,"y":1.413,"k":"d"},{"t":33.8,"y":1.446,"k":"d"},{"t":35.5,"y":1.483,"k":"d"},{"t":38.0,"y":1.514,"k":"d"},{"t":40.5,"y":1.533,"k":"d"},{"t":42.3,"y":1.545,"k":"d"}],
"iA2": [{"t":19.85,"y":1.545,"k":"c"},{"t":23.25,"y":1.545,"k":"c"},{"t":23.3,"y":1.605,"k":"c"},{"t":23.34,"y":1.5,"k":"c"},{"t":24.1,"y":1.338,"k":"c"},{"t":24.76,"y":1.4,"k":"c"},{"t":25.42,"y":1.442,"k":"c"},{"t":26.3,"y":1.479,"k":"c"},{"t":27.4,"y":1.504,"k":"c"},{"t":28.47,"y":1.533,"k":"c"},{"t":28.5,"y":1.605,"k":"c"},{"t":28.54,"y":1.5,"k":"c"},{"t":29.6,"y":1.188,"k":"c"},{"t":30.1,"y":1.262,"k":"c"},{"t":30.6,"y":1.317,"k":"c"},{"t":31.3,"y":1.365,"k":"c"},{"t":32.2,"y":1.408,"k":"c"},{"t":33.4,"y":1.447,"k":"c"},{"t":35.1,"y":1.487,"k":"c"},{"t":37.6,"y":1.518,"k":"c"},{"t":40.1,"y":1.536,"k":"c"},{"t":42.0,"y":1.545,"k":"c"},
{"t":19.85,"y":1.545,"k":"d"},{"t":23.25,"y":1.545,"k":"d"},{"t":23.3,"y":1.605,"k":"d"},{"t":23.34,"y":1.5,"k":"d"},{"t":24.1,"y":1.351,"k":"d"},{"t":24.76,"y":1.409,"k":"d"},{"t":25.42,"y":1.448,"k":"d"},{"t":26.3,"y":1.483,"k":"d"},{"t":27.4,"y":1.506,"k":"d"},{"t":28.47,"y":1.52,"k":"d"},{"t":28.5,"y":1.605,"k":"d"},{"t":28.54,"y":1.49,"k":"d"},{"t":29.6,"y":1.233,"k":"d"},{"t":30.1,"y":1.28,"k":"d"},{"t":30.6,"y":1.318,"k":"d"},{"t":31.3,"y":1.353,"k":"d"},{"t":32.2,"y":1.39,"k":"d"},{"t":33.4,"y":1.425,"k":"d"},{"t":35.1,"y":1.465,"k":"d"},{"t":37.6,"y":1.5,"k":"d"},{"t":40.1,"y":1.524,"k":"d"},{"t":42.0,"y":1.545,"k":"d"}],
"iA3": [{"t":20.3,"y":1.545,"k":"c"},{"t":22.15,"y":1.545,"k":"c"},{"t":22.2,"y":1.605,"k":"c"},{"t":22.24,"y":1.5,"k":"c"},{"t":22.9,"y":1.227,"k":"c"},{"t":23.58,"y":1.322,"k":"c"},{"t":24.25,"y":1.386,"k":"c"},{"t":25.15,"y":1.443,"k":"c"},{"t":26.28,"y":1.481,"k":"c"},{"t":27.37,"y":1.52,"k":"c"},{"t":27.4,"y":1.605,"k":"c"},{"t":27.44,"y":1.49,"k":"c"},{"t":28.6,"y":1.066,"k":"c"},{"t":29.1,"y":1.152,"k":"c"},{"t":29.6,"y":1.219,"k":"c"},{"t":30.3,"y":1.282,"k":"c"},{"t":31.2,"y":1.339,"k":"c"},{"t":32.4,"y":1.392,"k":"c"},{"t":34.1,"y":1.449,"k":"c"},{"t":36.6,"y":1.497,"k":"c"},{"t":39.1,"y":1.526,"k":"c"},{"t":42.2,"y":1.545,"k":"c"},
{"t":20.3,"y":1.545,"k":"d"},{"t":22.15,"y":1.545,"k":"d"},{"t":22.2,"y":1.605,"k":"d"},{"t":22.24,"y":1.5,"k":"d"},{"t":22.9,"y":1.346,"k":"d"},{"t":23.58,"y":1.406,"k":"d"},{"t":24.25,"y":1.446,"k":"d"},{"t":25.15,"y":1.481,"k":"d"},{"t":26.28,"y":1.505,"k":"d"},{"t":27.37,"y":1.52,"k":"d"},{"t":27.4,"y":1.605,"k":"d"},{"t":27.44,"y":1.49,"k":"d"},{"t":28.6,"y":1.242,"k":"d"},{"t":29.1,"y":1.297,"k":"d"},{"t":29.6,"y":1.339,"k":"d"},{"t":30.3,"y":1.378,"k":"d"},{"t":31.2,"y":1.415,"k":"d"},{"t":32.4,"y":1.448,"k":"d"},{"t":34.1,"y":1.484,"k":"d"},{"t":36.6,"y":1.515,"k":"d"},{"t":39.1,"y":1.533,"k":"d"},{"t":42.2,"y":1.545,"k":"d"}],
"iA4": [{"t":19.9,"y":1.545,"k":"c"},{"t":21.75,"y":1.545,"k":"c"},{"t":21.8,"y":1.605,"k":"c"},{"t":21.84,"y":1.5,"k":"c"},{"t":22.9,"y":1.342,"k":"c"},{"t":23.55,"y":1.403,"k":"c"},{"t":24.19,"y":1.444,"k":"c"},{"t":25.05,"y":1.48,"k":"c"},{"t":26.13,"y":1.504,"k":"c"},{"t":27.17,"y":1.515,"k":"c"},{"t":27.2,"y":1.605,"k":"c"},{"t":27.24,"y":1.49,"k":"c"},{"t":28.4,"y":1.237,"k":"c"},{"t":28.9,"y":1.292,"k":"c"},{"t":29.4,"y":1.336,"k":"c"},{"t":30.1,"y":1.376,"k":"c"},{"t":31.0,"y":1.413,"k":"c"},{"t":32.2,"y":1.446,"k":"c"},{"t":33.9,"y":1.483,"k":"c"},{"t":36.4,"y":1.514,"k":"c"},{"t":38.9,"y":1.533,"k":"c"},{"t":42.4,"y":1.545,"k":"c"},
{"t":19.9,"y":1.545,"k":"d"},{"t":21.75,"y":1.545,"k":"d"},{"t":21.8,"y":1.605,"k":"d"},{"t":21.84,"y":1.5,"k":"d"},{"t":22.9,"y":1.406,"k":"d"},{"t":23.55,"y":1.448,"k":"d"},{"t":24.19,"y":1.476,"k":"d"},{"t":25.05,"y":1.5,"k":"d"},{"t":26.13,"y":1.515,"k":"d"},{"t":27.17,"y":1.522,"k":"d"},{"t":27.2,"y":1.605,"k":"d"},{"t":27.24,"y":1.5,"k":"d"},{"t":28.4,"y":1.327,"k":"d"},{"t":28.9,"y":1.366,"k":"d"},{"t":29.4,"y":1.397,"k":"d"},{"t":30.1,"y":1.425,"k":"d"},{"t":31.0,"y":1.451,"k":"d"},{"t":32.2,"y":1.475,"k":"d"},{"t":33.9,"y":1.501,"k":"d"},{"t":36.4,"y":1.523,"k":"d"},{"t":38.9,"y":1.536,"k":"d"},{"t":42.4,"y":1.545,"k":"d"}],
"iB1": [{"t":19.8,"y":1.545,"k":"c"},{"t":21.75,"y":1.545,"k":"c"},{"t":21.8,"y":1.605,"k":"c"},{"t":21.84,"y":1.5,"k":"c"},{"t":22.6,"y":1.4,"k":"c"},{"t":23.29,"y":1.444,"k":"c"},{"t":23.98,"y":1.473,"k":"c"},{"t":24.9,"y":1.499,"k":"c"},{"t":26.05,"y":1.516,"k":"c"},{"t":27.17,"y":1.536,"k":"c"},{"t":27.2,"y":1.605,"k":"c"},{"t":27.24,"y":1.5,"k":"c"},{"t":28.1,"y":1.278,"k":"c"},{"t":28.6,"y":1.326,"k":"c"},{"t":29.1,"y":1.363,"k":"c"},{"t":29.8,"y":1.398,"k":"c"},{"t":30.7,"y":1.43,"k":"c"},{"t":31.9,"y":1.46,"k":"c"},{"t":33.6,"y":1.492,"k":"c"},{"t":36.1,"y":1.518,"k":"c"},{"t":38.6,"y":1.534,"k":"c"},{"t":42.3,"y":1.545,"k":"c"},
{"t":19.8,"y":1.545,"k":"d"},{"t":21.75,"y":1.545,"k":"d"},{"t":21.8,"y":1.605,"k":"d"},{"t":21.84,"y":1.5,"k":"d"},{"t":22.6,"y":1.418,"k":"d"},{"t":23.29,"y":1.456,"k":"d"},{"t":23.98,"y":1.482,"k":"d"},{"t":24.9,"y":1.504,"k":"d"},{"t":26.05,"y":1.52,"k":"d"},{"t":27.17,"y":1.536,"k":"d"},{"t":27.2,"y":1.605,"k":"d"},{"t":27.24,"y":1.5,"k":"d"},{"t":28.1,"y":1.29,"k":"d"},{"t":28.6,"y":1.336,"k":"d"},{"t":29.1,"y":1.372,"k":"d"},{"t":29.8,"y":1.405,"k":"d"},{"t":30.7,"y":1.435,"k":"d"},{"t":31.9,"y":1.463,"k":"d"},{"t":33.6,"y":1.494,"k":"d"},{"t":36.1,"y":1.52,"k":"d"},{"t":38.6,"y":1.535,"k":"d"},{"t":42.3,"y":1.545,"k":"d"}],
"iB2": [{"t":19.85,"y":1.545,"k":"c"},{"t":21.65,"y":1.545,"k":"c"},{"t":21.7,"y":1.605,"k":"c"},{"t":21.74,"y":1.5,"k":"c"},{"t":22.6,"y":1.345,"k":"c"},{"t":23.29,"y":1.405,"k":"c"},{"t":23.98,"y":1.445,"k":"c"},{"t":24.9,"y":1.481,"k":"c"},{"t":26.05,"y":1.505,"k":"c"},{"t":27.17,"y":1.527,"k":"c"},{"t":27.2,"y":1.605,"k":"c"},{"t":27.24,"y":1.5,"k":"c"},{"t":28.1,"y":1.24,"k":"c"},{"t":28.6,"y":1.295,"k":"c"},{"t":29.1,"y":1.338,"k":"c"},{"t":29.8,"y":1.377,"k":"c"},{"t":30.7,"y":1.414,"k":"c"},{"t":31.9,"y":1.447,"k":"c"},{"t":33.6,"y":1.484,"k":"c"},{"t":36.1,"y":1.515,"k":"c"},{"t":38.6,"y":1.533,"k":"c"},{"t":42.2,"y":1.545,"k":"c"},
{"t":19.85,"y":1.545,"k":"d"},{"t":21.65,"y":1.545,"k":"d"},{"t":21.7,"y":1.605,"k":"d"},{"t":21.74,"y":1.5,"k":"d"},{"t":22.6,"y":1.418,"k":"d"},{"t":23.29,"y":1.456,"k":"d"},{"t":23.98,"y":1.482,"k":"d"},{"t":24.9,"y":1.504,"k":"d"},{"t":26.05,"y":1.52,"k":"d"},{"t":27.17,"y":1.527,"k":"d"},{"t":27.2,"y":1.605,"k":"d"},{"t":27.24,"y":1.5,"k":"d"},{"t":28.1,"y":1.34,"k":"d"},{"t":28.6,"y":1.377,"k":"d"},{"t":29.1,"y":1.406,"k":"d"},{"t":29.8,"y":1.432,"k":"d"},{"t":30.7,"y":1.457,"k":"d"},{"t":31.9,"y":1.479,"k":"d"},{"t":33.6,"y":1.504,"k":"d"},{"t":36.1,"y":1.525,"k":"d"},{"t":38.6,"y":1.537,"k":"d"},{"t":42.2,"y":1.545,"k":"d"}],
"iB3": [{"t":19.9,"y":1.545,"k":"c"},{"t":21.85,"y":1.545,"k":"c"},{"t":21.9,"y":1.605,"k":"c"},{"t":21.94,"y":1.5,"k":"c"},{"t":22.8,"y":1.327,"k":"c"},{"t":23.46,"y":1.392,"k":"c"},{"t":24.12,"y":1.436,"k":"c"},{"t":25.0,"y":1.475,"k":"c"},{"t":26.1,"y":1.501,"k":"c"},{"t":27.17,"y":1.518,"k":"c"},{"t":27.2,"y":1.605,"k":"c"},{"t":27.24,"y":1.49,"k":"c"},{"t":28.4,"y":1.196,"k":"c"},{"t":28.9,"y":1.259,"k":"c"},{"t":29.4,"y":1.308,"k":"c"},{"t":30.1,"y":1.353,"k":"c"},{"t":31.0,"y":1.395,"k":"c"},{"t":32.2,"y":1.433,"k":"c"},{"t":33.9,"y":1.475,"k":"c"},{"t":36.4,"y":1.51,"k":"c"},{"t":38.9,"y":1.531,"k":"c"},{"t":42.2,"y":1.545,"k":"c"},
{"t":19.9,"y":1.545,"k":"d"},{"t":21.85,"y":1.545,"k":"d"},{"t":21.9,"y":1.605,"k":"d"},{"t":21.94,"y":1.5,"k":"d"},{"t":22.8,"y":1.418,"k":"d"},{"t":23.46,"y":1.456,"k":"d"},{"t":24.12,"y":1.482,"k":"d"},{"t":25.0,"y":1.504,"k":"d"},{"t":26.1,"y":1.52,"k":"d"},{"t":27.17,"y":1.52,"k":"d"},{"t":27.2,"y":1.605,"k":"d"},{"t":27.24,"y":1.5,"k":"d"},{"t":28.4,"y":1.34,"k":"d"},{"t":28.9,"y":1.377,"k":"d"},{"t":29.4,"y":1.406,"k":"d"},{"t":30.1,"y":1.432,"k":"d"},{"t":31.0,"y":1.457,"k":"d"},{"t":32.2,"y":1.479,"k":"d"},{"t":33.9,"y":1.504,"k":"d"},{"t":36.4,"y":1.525,"k":"d"},{"t":38.9,"y":1.537,"k":"d"},{"t":42.2,"y":1.545,"k":"d"}],
"iB4": [{"t":19.9,"y":1.545,"k":"c"},{"t":21.75,"y":1.545,"k":"c"},{"t":21.8,"y":1.605,"k":"c"},{"t":21.84,"y":1.5,"k":"c"},{"t":22.8,"y":1.36,"k":"c"},{"t":23.49,"y":1.416,"k":"c"},{"t":24.18,"y":1.453,"k":"c"},{"t":25.1,"y":1.486,"k":"c"},{"t":26.25,"y":1.508,"k":"c"},{"t":27.37,"y":1.518,"k":"c"},{"t":27.4,"y":1.605,"k":"c"},{"t":27.44,"y":1.49,"k":"c"},{"t":28.5,"y":1.191,"k":"c"},{"t":29.0,"y":1.255,"k":"c"},{"t":29.5,"y":1.304,"k":"c"},{"t":30.2,"y":1.35,"k":"c"},{"t":31.1,"y":1.393,"k":"c"},{"t":32.3,"y":1.432,"k":"c"},{"t":34.0,"y":1.474,"k":"c"},{"t":36.5,"y":1.51,"k":"c"},{"t":39.0,"y":1.531,"k":"c"},{"t":42.4,"y":1.545,"k":"c"},
{"t":19.9,"y":1.545,"k":"d"},{"t":21.75,"y":1.545,"k":"d"},{"t":21.8,"y":1.605,"k":"d"},{"t":21.84,"y":1.5,"k":"d"},{"t":22.8,"y":1.42,"k":"d"},{"t":23.49,"y":1.458,"k":"d"},{"t":24.18,"y":1.483,"k":"d"},{"t":25.1,"y":1.505,"k":"d"},{"t":26.25,"y":1.52,"k":"d"},{"t":27.37,"y":1.52,"k":"d"},{"t":27.4,"y":1.605,"k":"d"},{"t":27.44,"y":1.5,"k":"d"},{"t":28.5,"y":1.281,"k":"d"},{"t":29.0,"y":1.329,"k":"d"},{"t":29.5,"y":1.365,"k":"d"},{"t":30.2,"y":1.4,"k":"d"},{"t":31.1,"y":1.431,"k":"d"},{"t":32.3,"y":1.461,"k":"d"},{"t":34.0,"y":1.492,"k":"d"},{"t":36.5,"y":1.519,"k":"d"},{"t":39.0,"y":1.534,"k":"d"},{"t":42.4,"y":1.545,"k":"d"}],
"rise": [{"lob":"Lobule III","g":"Euploid vehicle","v":3.49,"hi":3.67},{"lob":"Lobule III","g":"Euploid SAG","v":3.07,"hi":3.46},{"lob":"Lobule III","g":"Ts65Dn vehicle","v":3.06,"hi":3.28},{"lob":"Lobule III","g":"Ts65Dn SAG","v":2.96,"hi":3.14},{"lob":"Lobule IX","g":"Euploid vehicle","v":3.74,"hi":3.99},{"lob":"Lobule IX","g":"Euploid SAG","v":4.25,"hi":4.48},{"lob":"Lobule IX","g":"Ts65Dn vehicle","v":3.74,"hi":3.99},{"lob":"Lobule IX","g":"Ts65Dn SAG","v":3.58,"hi":3.77}],
"decay": [{"lob":"Lobule III","g":"Euploid vehicle","v":17.9,"hi":19.2},{"lob":"Lobule III","g":"Euploid SAG","v":18.6,"hi":20.6},{"lob":"Lobule III","g":"Ts65Dn vehicle","v":16.5,"hi":18.1},{"lob":"Lobule III","g":"Ts65Dn SAG","v":14.3,"hi":15.7},{"lob":"Lobule IX","g":"Euploid vehicle","v":21.0,"hi":23.9},{"lob":"Lobule IX","g":"Euploid SAG","v":27.1,"hi":31.1},{"lob":"Lobule IX","g":"Ts65Dn vehicle","v":20.3,"hi":22.4},{"lob":"Lobule IX","g":"Ts65Dn SAG","v":20.0,"hi":21.6}],
"ppr": [{"lob":"Lobule III","g":"Euploid vehicle","v":1.9,"hi":1.97},{"lob":"Lobule III","g":"Euploid SAG","v":1.82,"hi":1.96},{"lob":"Lobule III","g":"Ts65Dn vehicle","v":1.635,"hi":1.68},{"lob":"Lobule III","g":"Ts65Dn SAG","v":1.69,"hi":1.77},{"lob":"Lobule IX","g":"Euploid vehicle","v":1.85,"hi":1.93},{"lob":"Lobule IX","g":"Euploid SAG","v":1.49,"hi":1.55},{"lob":"Lobule IX","g":"Ts65Dn vehicle","v":1.51,"hi":1.57},{"lob":"Lobule IX","g":"Ts65Dn SAG","v":1.69,"hi":1.78}],
"dep": [{"lob":"Lobule III","g":"Euploid vehicle","v":0.879,"hi":0.932},{"lob":"Lobule III","g":"Euploid SAG","v":0.822,"hi":0.9},{"lob":"Lobule III","g":"Ts65Dn vehicle","v":0.83,"hi":0.883},{"lob":"Lobule III","g":"Ts65Dn SAG","v":0.658,"hi":0.709},{"lob":"Lobule IX","g":"Euploid vehicle","v":0.767,"hi":0.851},{"lob":"Lobule IX","g":"Euploid SAG","v":0.61,"hi":0.658},{"lob":"Lobule IX","g":"Ts65Dn vehicle","v":0.658,"hi":0.724},{"lob":"Lobule IX","g":"Ts65Dn SAG","v":0.724,"hi":0.769}]
},
"concat": [
{
 "title": {"text": "a", "anchor": "start", "fontSize": 38, "offset": -36, "dx": -21},
 "spacing": 57,
 "hconcat": [
  {
   "title": {"text": "Lobule III", "anchor": "middle", "fontSize": 30, "offset": 20, "dx": 55},
   "spacing": 23,
   "vconcat": [
    {
     "title": {"text": "+vehicle", "orient": "left", "anchor": "middle", "fontSize": 24, "offset": 2, "dx": -24},
     "bounds": "flush", "spacing": 58,
     "hconcat": [
      {
       "width": 235, "height": 220,
       "title": {"text": "Euploid", "fontSize": 23, "offset": 12},
       "encoding": {
        "x": {"field": "t", "type": "quantitative", "scale": {"domain": [0, 42], "range": [12, 235], "nice": false, "zero": false}, "axis": {"values": [0,5,10,15,20,25,30,35,40], "labels": false, "title": null, "tickSize": {"condition": {"test": "datum.value % 10 === 0", "value": 13}, "value": 7}}},
        "y": {"field": "y", "type": "quantitative", "scale": {"domain": [0.4, 1.6], "nice": false, "zero": false}, "axis": {"values": [0.4,0.6,0.8,1,1.2,1.4,1.6], "format": ".1f", "offset": 1, "tickSize": 13, "labelPadding": 6, "title": "Avg. normalized EPSC", "titlePadding": 24}}
       },
       "layer": [
        {"data": {"name": "tA1"}, "mark": {"type": "errorbar", "color": "#c8c8c8", "thickness": 2.2}, "encoding": {"yError": {"field": "e"}}},
        {"data": {"name": "tA1"}, "mark": {"type": "circle", "color": "#c8c8c8", "size": 40, "opacity": 1}},
        {"data": {"values": [{"t": -1, "y": 1}, {"t": 42, "y": 1}]}, "mark": {"type": "line", "color": "#000000", "strokeWidth": 3.5, "strokeDash": [0.1, 9.9], "strokeCap": "round"}, "encoding": {}},
        {"data": {"name": "iA1"}, "transform": [{"filter": "datum.k === 'c'"}], "mark": {"type": "line", "color": "#000000", "strokeWidth": 1.6}, "encoding": {}},
        {"data": {"name": "iA1"}, "transform": [{"filter": "datum.k === 'd'"}], "mark": {"type": "line", "color": "#1a50ff", "strokeWidth": 2}, "encoding": {}},
        {"data": {"values": [{"t": 36, "y": 1.347, "o": 1}, {"t": 36, "y": 1.178, "o": 2}, {"t": 41.8, "y": 1.178, "o": 3}]}, "mark": {"type": "line", "color": "#000000", "strokeWidth": 2}, "encoding": {"order": {"field": "o", "type": "quantitative"}}},
        {"data": {"values": [{"t": 0, "y": 0.4, "n": "n=12"}]}, "mark": {"type": "text", "align": "left", "baseline": "alphabetic", "dy": -5, "fontSize": 18}, "encoding": {"text": {"field": "n", "type": "nominal"}}},
        {"data": {"values": [{"t": 10.6, "y": 0.4}]}, "mark": {"type": "point", "shape": "M-0.6,-1L0.6,-1L0.6,1L-0.6,1Z", "size": 100, "filled": true, "fill": "#ff0000", "stroke": "#000000", "strokeWidth": 1.2, "opacity": 1}}
       ]
      },
      {
       "width": 223, "height": 220,
       "title": {"text": "Ts65Dn", "fontSize": 23, "offset": 18},
       "encoding": {
        "x": {"field": "t", "type": "quantitative", "scale": {"domain": [0, 42], "nice": false, "zero": false}, "axis": {"values": [0,5,10,15,20,25,30,35,40], "labels": false, "title": null, "tickSize": {"condition": {"test": "datum.value % 10 === 0", "value": 13}, "value": 7}}},
        "y": {"field": "y", "type": "quantitative", "scale": {"domain": [0.4, 1.6], "nice": false, "zero": false}, "axis": {"values": [0.4,0.6,0.8,1,1.2,1.4,1.6], "offset": 13, "tickSize": 13, "labels": false, "title": null}}
       },
       "layer": [
        {"data": {"name": "tA2"}, "mark": {"type": "errorbar", "color": "#ffbfbf", "thickness": 2.2}, "encoding": {"yError": {"field": "e"}}},
        {"data": {"name": "tA2"}, "mark": {"type": "circle", "color": "#ffbfbf", "size": 40, "opacity": 1}},
        {"data": {"values": [{"t": -1, "y": 1}, {"t": 42, "y": 1}]}, "mark": {"type": "line", "color": "#000000", "strokeWidth": 3.5, "strokeDash": [0.1, 9.9], "strokeCap": "round"}, "encoding": {}},
        {"data": {"name": "iA2"}, "transform": [{"filter": "datum.k === 'c'"}], "mark": {"type": "line", "color": "#000000", "strokeWidth": 1.6}, "encoding": {}},
        {"data": {"name": "iA2"}, "transform": [{"filter": "datum.k === 'd'"}], "mark": {"type": "line", "color": "#1a50ff", "strokeWidth": 2}, "encoding": {}},
        {"data": {"values": [{"t": 0, "y": 0.4, "n": "n=13"}]}, "mark": {"type": "text", "align": "left", "baseline": "alphabetic", "dy": -5, "fontSize": 18}, "encoding": {"text": {"field": "n", "type": "nominal"}}},
        {"data": {"values": [{"t": 10.6, "y": 0.4}]}, "mark": {"type": "point", "shape": "M-0.6,-1L0.6,-1L0.6,1L-0.6,1Z", "size": 100, "filled": true, "fill": "#ff0000", "stroke": "#000000", "strokeWidth": 1.2, "opacity": 1}}
       ]
      }
     ]
    },
    {
     "title": {"text": "+SAG", "orient": "left", "anchor": "middle", "fontSize": 24, "offset": 2, "dx": 32},
     "bounds": "flush", "spacing": 58,
     "hconcat": [
      {
       "width": 235, "height": 220,
       "encoding": {
        "x": {"field": "t", "type": "quantitative", "scale": {"domain": [0, 42], "range": [12, 235], "nice": false, "zero": false}, "axis": {"values": [0,5,10,15,20,25,30,35,40], "labelExpr": "datum.value % 10 === 0 ? datum.label : ''", "title": "Time (min)", "labelPadding": 6, "titlePadding": 1, "tickSize": {"condition": {"test": "datum.value % 10 === 0", "value": 13}, "value": 7}}},
        "y": {"field": "y", "type": "quantitative", "scale": {"domain": [0.4, 1.6], "nice": false, "zero": false}, "axis": {"values": [0.4,0.6,0.8,1,1.2,1.4,1.6], "format": ".1f", "offset": 1, "tickSize": 13, "labelPadding": 6, "title": "Avg. normalized EPSC", "titlePadding": 24}}
       },
       "layer": [
        {"data": {"name": "tB1"}, "mark": {"type": "errorbar", "color": "#000000", "thickness": 2.2}, "encoding": {"yError": {"field": "e"}}},
        {"data": {"name": "tB1"}, "mark": {"type": "circle", "color": "#000000", "size": 40, "opacity": 1}},
        {"data": {"values": [{"t": -1, "y": 1}, {"t": 42, "y": 1}]}, "mark": {"type": "line", "color": "#000000", "strokeWidth": 3.5, "strokeDash": [0.1, 9.9], "strokeCap": "round"}, "encoding": {}},
        {"data": {"name": "iB1"}, "transform": [{"filter": "datum.k === 'c'"}], "mark": {"type": "line", "color": "#000000", "strokeWidth": 1.6}, "encoding": {}},
        {"data": {"name": "iB1"}, "transform": [{"filter": "datum.k === 'd'"}], "mark": {"type": "line", "color": "#1a50ff", "strokeWidth": 2}, "encoding": {}},
        {"data": {"values": [{"t": 0, "y": 0.4, "n": "n=8"}]}, "mark": {"type": "text", "align": "left", "baseline": "alphabetic", "dy": -5, "fontSize": 18}, "encoding": {"text": {"field": "n", "type": "nominal"}}},
        {"data": {"values": [{"t": 10.6, "y": 0.4}]}, "mark": {"type": "point", "shape": "M-0.6,-1L0.6,-1L0.6,1L-0.6,1Z", "size": 100, "filled": true, "fill": "#ff0000", "stroke": "#000000", "strokeWidth": 1.2, "opacity": 1}}
       ]
      },
      {
       "width": 223, "height": 220,
       "encoding": {
        "x": {"field": "t", "type": "quantitative", "scale": {"domain": [0, 42], "nice": false, "zero": false}, "axis": {"values": [0,5,10,15,20,25,30,35,40], "labelExpr": "datum.value % 10 === 0 ? datum.label : ''", "title": "Time (min)", "labelPadding": 6, "titlePadding": 1, "tickSize": {"condition": {"test": "datum.value % 10 === 0", "value": 13}, "value": 7}}},
        "y": {"field": "y", "type": "quantitative", "scale": {"domain": [0.4, 1.6], "nice": false, "zero": false}, "axis": {"values": [0.4,0.6,0.8,1,1.2,1.4,1.6], "offset": 13, "tickSize": 13, "labels": false, "title": null}}
       },
       "layer": [
        {"data": {"name": "tB2"}, "mark": {"type": "errorbar", "color": "#ff0000", "thickness": 2.2}, "encoding": {"yError": {"field": "e"}}},
        {"data": {"name": "tB2"}, "mark": {"type": "circle", "color": "#ff0000", "size": 40, "opacity": 1}},
        {"data": {"values": [{"t": -1, "y": 1}, {"t": 42, "y": 1}]}, "mark": {"type": "line", "color": "#000000", "strokeWidth": 3.5, "strokeDash": [0.1, 9.9], "strokeCap": "round"}, "encoding": {}},
        {"data": {"name": "iB2"}, "transform": [{"filter": "datum.k === 'c'"}], "mark": {"type": "line", "color": "#000000", "strokeWidth": 1.6}, "encoding": {}},
        {"data": {"name": "iB2"}, "transform": [{"filter": "datum.k === 'd'"}], "mark": {"type": "line", "color": "#1a50ff", "strokeWidth": 2}, "encoding": {}},
        {"data": {"values": [{"t": 0, "y": 0.4, "n": "n=14"}]}, "mark": {"type": "text", "align": "left", "baseline": "alphabetic", "dy": -5, "fontSize": 18}, "encoding": {"text": {"field": "n", "type": "nominal"}}},
        {"data": {"values": [{"t": 10.6, "y": 0.4}]}, "mark": {"type": "point", "shape": "M-0.6,-1L0.6,-1L0.6,1L-0.6,1Z", "size": 100, "filled": true, "fill": "#ff0000", "stroke": "#000000", "strokeWidth": 1.2, "opacity": 1}}
       ]
      }
     ]
    }
   ]
  },
  {
   "title": {"text": "Lobule IX", "anchor": "middle", "fontSize": 30, "offset": 20, "dx": 4},
   "spacing": 26,
   "vconcat": [
    {
     "bounds": "flush", "spacing": 57,
     "hconcat": [
      {
       "width": 223, "height": 220,
       "title": {"text": "Euploid", "fontSize": 23, "offset": 18},
       "encoding": {
        "x": {"field": "t", "type": "quantitative", "scale": {"domain": [0, 42], "nice": false, "zero": false}, "axis": {"values": [0,5,10,15,20,25,30,35,40], "labels": false, "title": null, "tickSize": {"condition": {"test": "datum.value % 10 === 0", "value": 13}, "value": 7}}},
        "y": {"field": "y", "type": "quantitative", "scale": {"domain": [0.4, 1.6], "nice": false, "zero": false}, "axis": {"values": [0.4,0.6,0.8,1,1.2,1.4,1.6], "offset": 13, "tickSize": 13, "labels": false, "title": null}}
       },
       "layer": [
        {"data": {"name": "tA3"}, "mark": {"type": "errorbar", "color": "#c8c8c8", "thickness": 2.2}, "encoding": {"yError": {"field": "e"}}},
        {"data": {"name": "tA3"}, "mark": {"type": "circle", "color": "#c8c8c8", "size": 40, "opacity": 1}},
        {"data": {"values": [{"t": -1, "y": 1}, {"t": 42, "y": 1}]}, "mark": {"type": "line", "color": "#000000", "strokeWidth": 3.5, "strokeDash": [0.1, 9.9], "strokeCap": "round"}, "encoding": {}},
        {"data": {"name": "iA3"}, "transform": [{"filter": "datum.k === 'c'"}], "mark": {"type": "line", "color": "#000000", "strokeWidth": 1.6}, "encoding": {}},
        {"data": {"name": "iA3"}, "transform": [{"filter": "datum.k === 'd'"}], "mark": {"type": "line", "color": "#1a50ff", "strokeWidth": 2}, "encoding": {}},
        {"data": {"values": [{"t": 0, "y": 0.4, "n": "n=16"}]}, "mark": {"type": "text", "align": "left", "baseline": "alphabetic", "dy": -5, "fontSize": 18}, "encoding": {"text": {"field": "n", "type": "nominal"}}},
        {"data": {"values": [{"t": 10.6, "y": 0.4}]}, "mark": {"type": "point", "shape": "M-0.6,-1L0.6,-1L0.6,1L-0.6,1Z", "size": 100, "filled": true, "fill": "#ff0000", "stroke": "#000000", "strokeWidth": 1.2, "opacity": 1}}
       ]
      },
      {
       "width": 223, "height": 220,
       "title": {"text": "Ts65Dn", "fontSize": 23, "offset": 18},
       "encoding": {
        "x": {"field": "t", "type": "quantitative", "scale": {"domain": [0, 42], "nice": false, "zero": false}, "axis": {"values": [0,5,10,15,20,25,30,35,40], "labels": false, "title": null, "tickSize": {"condition": {"test": "datum.value % 10 === 0", "value": 13}, "value": 7}}},
        "y": {"field": "y", "type": "quantitative", "scale": {"domain": [0.4, 1.6], "nice": false, "zero": false}, "axis": {"values": [0.4,0.6,0.8,1,1.2,1.4,1.6], "offset": 13, "tickSize": 13, "labels": false, "title": null}}
       },
       "layer": [
        {"data": {"name": "tA4"}, "mark": {"type": "errorbar", "color": "#ffbfbf", "thickness": 2.2}, "encoding": {"yError": {"field": "e"}}},
        {"data": {"name": "tA4"}, "mark": {"type": "circle", "color": "#ffbfbf", "size": 40, "opacity": 1}},
        {"data": {"values": [{"t": -1, "y": 1}, {"t": 42, "y": 1}]}, "mark": {"type": "line", "color": "#000000", "strokeWidth": 3.5, "strokeDash": [0.1, 9.9], "strokeCap": "round"}, "encoding": {}},
        {"data": {"name": "iA4"}, "transform": [{"filter": "datum.k === 'c'"}], "mark": {"type": "line", "color": "#000000", "strokeWidth": 1.6}, "encoding": {}},
        {"data": {"name": "iA4"}, "transform": [{"filter": "datum.k === 'd'"}], "mark": {"type": "line", "color": "#1a50ff", "strokeWidth": 2}, "encoding": {}},
        {"data": {"values": [{"t": 0, "y": 0.4, "n": "n=15"}]}, "mark": {"type": "text", "align": "left", "baseline": "alphabetic", "dy": -5, "fontSize": 18}, "encoding": {"text": {"field": "n", "type": "nominal"}}},
        {"data": {"values": [{"t": 10.6, "y": 0.4}]}, "mark": {"type": "point", "shape": "M-0.6,-1L0.6,-1L0.6,1L-0.6,1Z", "size": 100, "filled": true, "fill": "#ff0000", "stroke": "#000000", "strokeWidth": 1.2, "opacity": 1}}
       ]
      }
     ]
    },
    {
     "bounds": "flush", "spacing": 57,
     "hconcat": [
      {
       "width": 223, "height": 220,
       "encoding": {
        "x": {"field": "t", "type": "quantitative", "scale": {"domain": [0, 42], "nice": false, "zero": false}, "axis": {"values": [0,5,10,15,20,25,30,35,40], "labelExpr": "datum.value % 10 === 0 ? datum.label : ''", "title": "Time (min)", "labelPadding": 6, "titlePadding": 1, "tickSize": {"condition": {"test": "datum.value % 10 === 0", "value": 13}, "value": 7}}},
        "y": {"field": "y", "type": "quantitative", "scale": {"domain": [0.4, 1.6], "nice": false, "zero": false}, "axis": {"values": [0.4,0.6,0.8,1,1.2,1.4,1.6], "offset": 13, "tickSize": 13, "labels": false, "title": null}}
       },
       "layer": [
        {"data": {"name": "tB3"}, "mark": {"type": "errorbar", "color": "#000000", "thickness": 2.2}, "encoding": {"yError": {"field": "e"}}},
        {"data": {"name": "tB3"}, "mark": {"type": "circle", "color": "#000000", "size": 40, "opacity": 1}},
        {"data": {"values": [{"t": -1, "y": 1}, {"t": 42, "y": 1}]}, "mark": {"type": "line", "color": "#000000", "strokeWidth": 3.5, "strokeDash": [0.1, 9.9], "strokeCap": "round"}, "encoding": {}},
        {"data": {"name": "iB3"}, "transform": [{"filter": "datum.k === 'c'"}], "mark": {"type": "line", "color": "#000000", "strokeWidth": 1.6}, "encoding": {}},
        {"data": {"name": "iB3"}, "transform": [{"filter": "datum.k === 'd'"}], "mark": {"type": "line", "color": "#1a50ff", "strokeWidth": 2}, "encoding": {}},
        {"data": {"values": [{"t": 0, "y": 0.4, "n": "n=9"}]}, "mark": {"type": "text", "align": "left", "baseline": "alphabetic", "dy": -5, "fontSize": 18}, "encoding": {"text": {"field": "n", "type": "nominal"}}},
        {"data": {"values": [{"t": 10.6, "y": 0.4}]}, "mark": {"type": "point", "shape": "M-0.6,-1L0.6,-1L0.6,1L-0.6,1Z", "size": 100, "filled": true, "fill": "#ff0000", "stroke": "#000000", "strokeWidth": 1.2, "opacity": 1}}
       ]
      },
      {
       "width": 223, "height": 220,
       "encoding": {
        "x": {"field": "t", "type": "quantitative", "scale": {"domain": [0, 42], "nice": false, "zero": false}, "axis": {"values": [0,5,10,15,20,25,30,35,40], "labelExpr": "datum.value % 10 === 0 ? datum.label : ''", "title": "Time (min)", "labelPadding": 6, "titlePadding": 1, "tickSize": {"condition": {"test": "datum.value % 10 === 0", "value": 13}, "value": 7}}},
        "y": {"field": "y", "type": "quantitative", "scale": {"domain": [0.4, 1.6], "nice": false, "zero": false}, "axis": {"values": [0.4,0.6,0.8,1,1.2,1.4,1.6], "offset": 13, "tickSize": 13, "labels": false, "title": null}}
       },
       "layer": [
        {"data": {"name": "tB4"}, "mark": {"type": "errorbar", "color": "#ff0000", "thickness": 2.2}, "encoding": {"yError": {"field": "e"}}},
        {"data": {"name": "tB4"}, "mark": {"type": "circle", "color": "#ff0000", "size": 40, "opacity": 1}},
        {"data": {"values": [{"t": -1, "y": 1}, {"t": 42, "y": 1}]}, "mark": {"type": "line", "color": "#000000", "strokeWidth": 3.5, "strokeDash": [0.1, 9.9], "strokeCap": "round"}, "encoding": {}},
        {"data": {"name": "iB4"}, "transform": [{"filter": "datum.k === 'c'"}], "mark": {"type": "line", "color": "#000000", "strokeWidth": 1.6}, "encoding": {}},
        {"data": {"name": "iB4"}, "transform": [{"filter": "datum.k === 'd'"}], "mark": {"type": "line", "color": "#1a50ff", "strokeWidth": 2}, "encoding": {}},
        {"data": {"values": [{"t": 0, "y": 0.4, "n": "n=15"}]}, "mark": {"type": "text", "align": "left", "baseline": "alphabetic", "dy": -5, "fontSize": 18}, "encoding": {"text": {"field": "n", "type": "nominal"}}},
        {"data": {"values": [{"t": 10.6, "y": 0.4}]}, "mark": {"type": "point", "shape": "M-0.6,-1L0.6,-1L0.6,1L-0.6,1Z", "size": 100, "filled": true, "fill": "#ff0000", "stroke": "#000000", "strokeWidth": 1.2, "opacity": 1}}
       ]
      }
     ]
    }
   ]
  }
 ]
},
{
 "bounds": "flush", "spacing": 75,
 "hconcat": [
  {
   "width": 220, "height": 176,
   "title": {"text": "Rise time (ms)", "fontSize": 24, "offset": -44},
   "data": {"name": "rise"},
   "encoding": {
    "x": {"field": "lob", "type": "nominal", "sort": ["Lobule III", "Lobule IX"], "scale": {"paddingInner": 0, "paddingOuter": 0}, "axis": {"title": null, "labelAngle": 0, "tickBand": "extent", "tickSize": 11, "labelPadding": -2, "labelFontSize": 18}},
    "xOffset": {"field": "g", "type": "nominal", "sort": ["Euploid vehicle", "Euploid SAG", "Ts65Dn vehicle", "Ts65Dn SAG"], "scale": {"paddingInner": 0.1, "paddingOuter": 0.55}}
   },
   "layer": [
    {"mark": {"type": "bar", "strokeWidth": 1.5}, "encoding": {
      "y": {"field": "v", "type": "quantitative", "scale": {"domain": [0, 5], "nice": false}, "axis": {"values": [0,1,2,3,4,5], "tickSize": 13, "labelPadding": 16, "labelFontSize": 18, "title": "b", "titleAngle": 0, "titleFontSize": 38, "titleFontWeight": "bold", "titleAlign": "left", "titleBaseline": "alphabetic", "titleX": -131, "titleY": -33}},
      "fill": {"field": "g", "type": "nominal", "scale": {"domain": ["Euploid vehicle", "Euploid SAG", "Ts65Dn vehicle", "Ts65Dn SAG"], "range": ["#808080", "#000000", "#ff8080", "#ff0000"]}, "legend": null},
      "stroke": {"field": "g", "type": "nominal", "scale": {"domain": ["Euploid vehicle", "Euploid SAG", "Ts65Dn vehicle", "Ts65Dn SAG"], "range": ["#000000", "#000000", "#ff0000", "#ff0000"]}, "legend": null}}},
    {"mark": {"type": "rule", "strokeWidth": 2}, "encoding": {"y": {"field": "v", "type": "quantitative", "scale": {"domain": [0, 5], "nice": false}, "axis": {"values": [0,1,2,3,4,5], "tickSize": 13, "labelPadding": 16, "labelFontSize": 18, "title": "b", "titleAngle": 0, "titleFontSize": 38, "titleFontWeight": "bold", "titleAlign": "left", "titleBaseline": "alphabetic", "titleX": -131, "titleY": -33}}, "y2": {"field": "hi"}, "color": {"field": "g", "type": "nominal", "scale": {"domain": ["Euploid vehicle", "Euploid SAG", "Ts65Dn vehicle", "Ts65Dn SAG"], "range": ["#000000", "#000000", "#ff0000", "#ff0000"]}, "legend": null}}},
    {"mark": {"type": "tick", "thickness": 2, "size": 9}, "encoding": {"y": {"field": "hi", "type": "quantitative", "scale": {"domain": [0, 5], "nice": false}, "axis": {"values": [0,1,2,3,4,5], "tickSize": 13, "labelPadding": 16, "labelFontSize": 18, "title": "b", "titleAngle": 0, "titleFontSize": 38, "titleFontWeight": "bold", "titleAlign": "left", "titleBaseline": "alphabetic", "titleX": -131, "titleY": -33}}, "color": {"field": "g", "type": "nominal", "scale": {"domain": ["Euploid vehicle", "Euploid SAG", "Ts65Dn vehicle", "Ts65Dn SAG"], "range": ["#000000", "#000000", "#ff0000", "#ff0000"]}, "legend": null}}}
   ]
  },
  {
   "width": 220, "height": 176,
   "title": {"text": "Decay tau (ms)", "fontSize": 24, "offset": 9},
   "data": {"name": "decay"},
   "encoding": {
    "x": {"field": "lob", "type": "nominal", "sort": ["Lobule III", "Lobule IX"], "scale": {"paddingInner": 0, "paddingOuter": 0}, "axis": {"title": null, "labelAngle": 0, "tickBand": "extent", "tickSize": 11, "labelPadding": -2, "labelFontSize": 18}},
    "xOffset": {"field": "g", "type": "nominal", "sort": ["Euploid vehicle", "Euploid SAG", "Ts65Dn vehicle", "Ts65Dn SAG"], "scale": {"paddingInner": 0.1, "paddingOuter": 0.55}}
   },
   "layer": [
    {"mark": {"type": "bar", "strokeWidth": 1.5}, "encoding": {
      "y": {"field": "v", "type": "quantitative", "scale": {"domain": [0, 35], "nice": false}, "axis": {"values": [0,5,10,15,20,25,30,35], "labelExpr": "datum.value % 10 === 0 ? datum.label : ''", "tickSize": {"condition": {"test": "datum.value % 10 === 0", "value": 13}, "value": 7}, "labelPadding": 16, "title": null, "labelFontSize": 18}},
      "fill": {"field": "g", "type": "nominal", "scale": {"domain": ["Euploid vehicle", "Euploid SAG", "Ts65Dn vehicle", "Ts65Dn SAG"], "range": ["#808080", "#000000", "#ff8080", "#ff0000"]}, "legend": null},
      "stroke": {"field": "g", "type": "nominal", "scale": {"domain": ["Euploid vehicle", "Euploid SAG", "Ts65Dn vehicle", "Ts65Dn SAG"], "range": ["#000000", "#000000", "#ff0000", "#ff0000"]}, "legend": null}}},
    {"mark": {"type": "rule", "strokeWidth": 2}, "encoding": {"y": {"field": "v", "type": "quantitative", "scale": {"domain": [0, 35], "nice": false}, "axis": {"values": [0,5,10,15,20,25,30,35], "labelExpr": "datum.value % 10 === 0 ? datum.label : ''", "tickSize": {"condition": {"test": "datum.value % 10 === 0", "value": 13}, "value": 7}, "labelPadding": 16, "title": null, "labelFontSize": 18}}, "y2": {"field": "hi"}, "color": {"field": "g", "type": "nominal", "scale": {"domain": ["Euploid vehicle", "Euploid SAG", "Ts65Dn vehicle", "Ts65Dn SAG"], "range": ["#000000", "#000000", "#ff0000", "#ff0000"]}, "legend": null}}},
    {"mark": {"type": "tick", "thickness": 2, "size": 9}, "encoding": {"y": {"field": "hi", "type": "quantitative", "scale": {"domain": [0, 35], "nice": false}, "axis": {"values": [0,5,10,15,20,25,30,35], "labelExpr": "datum.value % 10 === 0 ? datum.label : ''", "tickSize": {"condition": {"test": "datum.value % 10 === 0", "value": 13}, "value": 7}, "labelPadding": 16, "title": null, "labelFontSize": 18}}, "color": {"field": "g", "type": "nominal", "scale": {"domain": ["Euploid vehicle", "Euploid SAG", "Ts65Dn vehicle", "Ts65Dn SAG"], "range": ["#000000", "#000000", "#ff0000", "#ff0000"]}, "legend": null}}}
   ]
  },
  {
   "width": 220, "height": 176,
   "title": {"text": "Paired-pulse ratio", "fontSize": 24, "offset": 10},
   "data": {"name": "ppr"},
   "encoding": {
    "x": {"field": "lob", "type": "nominal", "sort": ["Lobule III", "Lobule IX"], "scale": {"paddingInner": 0, "paddingOuter": 0}, "axis": {"title": null, "labelAngle": 0, "tickBand": "extent", "tickSize": 11, "labelPadding": -2, "labelFontSize": 18}},
    "xOffset": {"field": "g", "type": "nominal", "sort": ["Euploid vehicle", "Euploid SAG", "Ts65Dn vehicle", "Ts65Dn SAG"], "scale": {"paddingInner": 0.1, "paddingOuter": 0.55}}
   },
   "layer": [
    {"mark": {"type": "bar", "strokeWidth": 1.5}, "encoding": {
      "y": {"field": "v", "type": "quantitative", "scale": {"domain": [0, 2.5], "nice": false}, "axis": {"values": [0,0.5,1,1.5,2,2.5], "format": ".1f", "tickSize": 13, "labelPadding": 16, "title": null, "labelFontSize": 18}},
      "fill": {"field": "g", "type": "nominal", "scale": {"domain": ["Euploid vehicle", "Euploid SAG", "Ts65Dn vehicle", "Ts65Dn SAG"], "range": ["#808080", "#000000", "#ff8080", "#ff0000"]}, "legend": null},
      "stroke": {"field": "g", "type": "nominal", "scale": {"domain": ["Euploid vehicle", "Euploid SAG", "Ts65Dn vehicle", "Ts65Dn SAG"], "range": ["#000000", "#000000", "#ff0000", "#ff0000"]}, "legend": null}}},
    {"mark": {"type": "rule", "strokeWidth": 2}, "encoding": {"y": {"field": "v", "type": "quantitative", "scale": {"domain": [0, 2.5], "nice": false}, "axis": {"values": [0,0.5,1,1.5,2,2.5], "format": ".1f", "tickSize": 13, "labelPadding": 16, "title": null, "labelFontSize": 18}}, "y2": {"field": "hi"}, "color": {"field": "g", "type": "nominal", "scale": {"domain": ["Euploid vehicle", "Euploid SAG", "Ts65Dn vehicle", "Ts65Dn SAG"], "range": ["#000000", "#000000", "#ff0000", "#ff0000"]}, "legend": null}}},
    {"mark": {"type": "tick", "thickness": 2, "size": 9}, "encoding": {"y": {"field": "hi", "type": "quantitative", "scale": {"domain": [0, 2.5], "nice": false}, "axis": {"values": [0,0.5,1,1.5,2,2.5], "format": ".1f", "tickSize": 13, "labelPadding": 16, "title": null, "labelFontSize": 18}}, "color": {"field": "g", "type": "nominal", "scale": {"domain": ["Euploid vehicle", "Euploid SAG", "Ts65Dn vehicle", "Ts65Dn SAG"], "range": ["#000000", "#000000", "#ff0000", "#ff0000"]}, "legend": null}}},
    {"data": {"values": [{"lob": "Lobule III", "g": "Ts65Dn vehicle", "hi": 1.68, "s": "*"}, {"lob": "Lobule IX", "g": "Ts65Dn vehicle", "hi": 1.57, "s": "*"}]}, "mark": {"type": "text", "fontSize": 26, "baseline": "alphabetic", "dy": 4, "fontWeight": "normal"}, "encoding": {"y": {"field": "hi", "type": "quantitative", "scale": {"domain": [0, 2.5], "nice": false}, "axis": {"values": [0,0.5,1,1.5,2,2.5], "format": ".1f", "tickSize": 13, "labelPadding": 16, "title": null, "labelFontSize": 18}}, "text": {"field": "s", "type": "nominal"}}}
   ]
  },
  {
   "width": 220, "height": 176,
   "title": {"text": "Avg depression at 35'", "fontSize": 24, "offset": 10},
   "data": {"name": "dep"},
   "encoding": {
    "x": {"field": "lob", "type": "nominal", "sort": ["Lobule III", "Lobule IX"], "scale": {"paddingInner": 0, "paddingOuter": 0}, "axis": {"title": null, "labelAngle": 0, "tickBand": "extent", "tickSize": 11, "labelPadding": -2, "labelFontSize": 18}},
    "xOffset": {"field": "g", "type": "nominal", "sort": ["Euploid vehicle", "Euploid SAG", "Ts65Dn vehicle", "Ts65Dn SAG"], "scale": {"paddingInner": 0.1, "paddingOuter": 0.55}}
   },
   "layer": [
    {"mark": {"type": "bar", "strokeWidth": 1.5}, "encoding": {
      "y": {"field": "v", "type": "quantitative", "scale": {"domain": [0, 1], "nice": false}, "axis": {"values": [0,0.2,0.4,0.6,0.8,1], "format": ".1f", "tickSize": 13, "labelPadding": 16, "title": null, "labelFontSize": 18}},
      "fill": {"field": "g", "type": "nominal", "scale": {"domain": ["Euploid vehicle", "Euploid SAG", "Ts65Dn vehicle", "Ts65Dn SAG"], "range": ["#808080", "#000000", "#ff8080", "#ff0000"]}, "legend": null},
      "stroke": {"field": "g", "type": "nominal", "scale": {"domain": ["Euploid vehicle", "Euploid SAG", "Ts65Dn vehicle", "Ts65Dn SAG"], "range": ["#000000", "#000000", "#ff0000", "#ff0000"]}, "legend": null}}},
    {"mark": {"type": "rule", "strokeWidth": 2}, "encoding": {"y": {"field": "v", "type": "quantitative", "scale": {"domain": [0, 1], "nice": false}, "axis": {"values": [0,0.2,0.4,0.6,0.8,1], "format": ".1f", "tickSize": 13, "labelPadding": 16, "title": null, "labelFontSize": 18}}, "y2": {"field": "hi"}, "color": {"field": "g", "type": "nominal", "scale": {"domain": ["Euploid vehicle", "Euploid SAG", "Ts65Dn vehicle", "Ts65Dn SAG"], "range": ["#000000", "#000000", "#ff0000", "#ff0000"]}, "legend": null}}},
    {"mark": {"type": "tick", "thickness": 2, "size": 9}, "encoding": {"y": {"field": "hi", "type": "quantitative", "scale": {"domain": [0, 1], "nice": false}, "axis": {"values": [0,0.2,0.4,0.6,0.8,1], "format": ".1f", "tickSize": 13, "labelPadding": 16, "title": null, "labelFontSize": 18}}, "color": {"field": "g", "type": "nominal", "scale": {"domain": ["Euploid vehicle", "Euploid SAG", "Ts65Dn vehicle", "Ts65Dn SAG"], "range": ["#000000", "#000000", "#ff0000", "#ff0000"]}, "legend": null}}}
   ]
  }
 ]
}
]
}
